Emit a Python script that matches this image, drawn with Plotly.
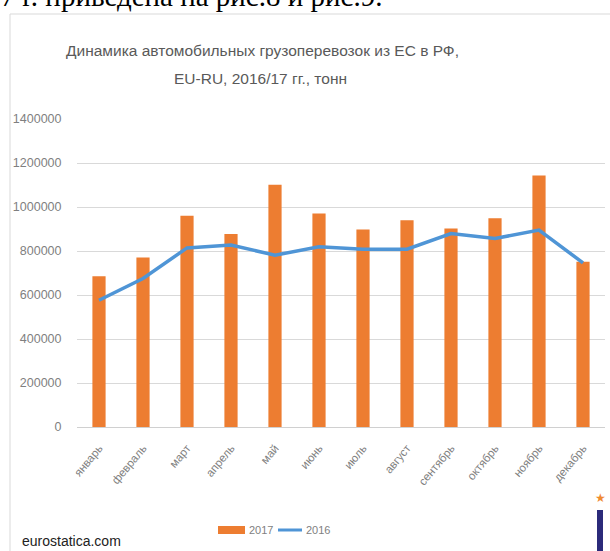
import plotly.graph_objects as go

months = ["январь", "февраль", "март", "апрель", "май", "июнь",
          "июль", "август", "сентябрь", "октябрь", "ноябрь", "декабрь"]
values_2017 = [685000, 770000, 960000, 877000, 1101000, 970000,
               898000, 940000, 902000, 949000, 1143000, 751000]
values_2016 = [576000, 675000, 814000, 827000, 781000, 819000,
               808000, 808000, 879000, 857000, 895000, 746000]
y_ticks = [0, 200000, 400000, 600000, 800000, 1000000, 1200000, 1400000]
series_names = ["2017", "2016"]
colors = ["#ED7D31", "#4F95D6"]

W, H = 610, 551
L, R, T, B = 77, 5, 119, 124
pw, ph = W - L - R, H - T - B


def px(x):
    return (x - L) / pw


def py(y):
    return (H - B - y) / ph


fig = go.Figure()
fig.add_trace(go.Bar(x=months, y=values_2017, name=series_names[0],
                     marker=dict(color=colors[0], line=dict(width=0))))
fig.add_trace(go.Scatter(x=months, y=values_2016, name=series_names[1], mode="lines",
                         line=dict(color=colors[1], width=3.5)))

fig.update_layout(
    width=W, height=H,
    margin=dict(l=L, r=R, t=T, b=B, autoexpand=False),
    paper_bgcolor="white", plot_bgcolor="white",
    bargap=0.7,
    showlegend=False,
    font=dict(family="Liberation Sans, Arial, sans-serif", color="#7f7f7f"),
)
fig.update_yaxes(range=[0, 1400000], tickvals=y_ticks, ticktext=[str(v) for v in y_ticks],
                 showgrid=True, gridcolor="#d9d9d9", gridwidth=1,
                 zeroline=True, zerolinecolor="#d0d0d0", zerolinewidth=1,
                 ticks="outside", ticklen=12, tickcolor="rgba(0,0,0,0)",
                 tickfont=dict(family="Liberation Sans, Arial, sans-serif", size=12.5, color="#7f7f7f"),
                 automargin=False, fixedrange=True)
fig.update_xaxes(tickangle=-50, showgrid=False, showline=False,
                 tickfont=dict(family="Liberation Sans, Arial, sans-serif", size=11.5, color="#7f7f7f"),
                 ticks="outside", ticklen=9, tickcolor="rgba(0,0,0,0)", automargin=False)

title_font = dict(family="Liberation Sans, Arial, sans-serif", size=15.5, color="#595959")
legend_font = dict(family="Liberation Sans, Arial, sans-serif", size=11, color="#7f7f7f")
annotations = [
    dict(text="Динамика автомобильных грузоперевозок из ЕС в РФ,", x=px(262), y=py(50), font=title_font),
    dict(text="EU-RU, 2016/17 гг., тонн", x=px(260), y=py(79), font=title_font),
    dict(text="eurostatica.com", x=px(20), y=py(541), xanchor="left",
         font=dict(family="Liberation Sans, Arial, sans-serif", size=14, color="#222222")),
    dict(text="2017 г. приведена на рис.8 и рис.9.", x=px(384), y=py(-4), xanchor="right",
         font=dict(family="Liberation Serif, Times New Roman, serif", size=29, color="#000000")),
    dict(text="★", x=px(600), y=py(498),
         font=dict(family="DejaVu Sans", size=12, color="#F08A30")),
    # legend labels
    dict(text=series_names[0], x=px(247), y=py(530), xanchor="left", font=legend_font),
    dict(text=series_names[1], x=px(304), y=py(530), xanchor="left", font=legend_font),
]
for a in annotations:
    a.setdefault("xanchor", "center")
    a.setdefault("yanchor", "middle")
    a.update(xref="paper", yref="paper", showarrow=False)
fig.update_layout(annotations=annotations)

fig.update_layout(shapes=[
    dict(type="rect", xref="paper", yref="paper", x0=px(10), x1=px(640), y0=py(600), y1=py(14),
         line=dict(color="#d9d9d9", width=1), fillcolor="rgba(0,0,0,0)", layer="below"),
    dict(type="rect", xref="paper", yref="paper", x0=px(597), x1=px(603), y0=py(551), y1=py(510),
         line=dict(width=0), fillcolor="#2B2A7A"),
    # legend swatches
    dict(type="rect", xref="paper", yref="paper", x0=px(218), x1=px(245), y0=py(534), y1=py(526),
         line=dict(width=0), fillcolor=colors[0]),
    dict(type="line", xref="paper", yref="paper", x0=px(278), x1=px(302), y0=py(530), y1=py(530),
         line=dict(color=colors[1], width=3)),
])

fig.write_html("out.html", config={"displayModeBar": False},
               post_script="document.body.style.margin='0';document.body.style.overflow='hidden';")
